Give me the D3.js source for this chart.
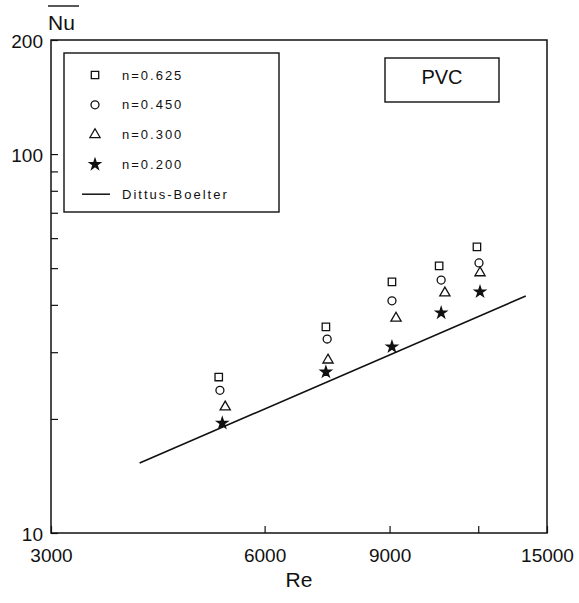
<!DOCTYPE html>
<html>
<head>
<meta charset="utf-8">
<script src="https://cdn.jsdelivr.net/npm/d3@7"></script>
<style>
  body { margin: 0; background: #fff; }
  svg text { font-family: "Liberation Sans", Arial, sans-serif; fill: #111; }
</style>
</head>
<body>
<div id="plot"></div>
<script>
// values
const reSquare = [5170, 7320, 9070, 10570, 11950];
const nuSquare = [25.8, 35.0, 46.0, 50.7, 56.9];   // n=0.625
const reCircle = [5190, 7350, 9070, 10640, 12030];
const nuCircle = [23.8, 32.5, 41.0, 46.5, 51.6];   // n=0.450
const reTri = [5280, 7370, 9190, 10770, 12070];
const nuTri = [21.5, 28.6, 36.9, 43.0, 48.6];      // n=0.300
const reStar = [5230, 7320, 9070, 10640, 12070];
const nuStar = [19.5, 26.6, 31.0, 38.1, 43.3];     // n=0.200
const reDB = [4000, 14000];
const nuDB = [15.3, 42.2];                          // Dittus-Boelter

const xTicks = [3000, 6000, 9000, 12000, 15000];
const xLabels = ["3000", "6000", "9000", "", "15000"];
const yTicks = [10, 20, 30, 40, 50, 60, 70, 80, 90, 100, 200];
const yLabels = { 10: "10", 100: "100", 200: "200" };
const legendLabels = ["n=0.625", "n=0.450", "n=0.300", "n=0.200", "Dittus-Boelter"];

const w = 579, h = 603;
const margin = { top: 40, right: 32, bottom: 70, left: 51 };
const innerWidth = w - margin.left - margin.right;
const innerHeight = h - margin.top - margin.bottom;

const svg = d3.select("#plot").append("svg")
    .attr("width", w)
    .attr("height", h);

const g = svg.append("g")
    .attr("transform", `translate(${margin.left},${margin.top})`);

const x = d3.scaleLog().domain([3000, 15000]).range([0, innerWidth]);
const y = d3.scaleLog().domain([10, 200]).range([innerHeight, 0]);

// axes, ticks pointing inward
const xAxis = g.append("g")
    .attr("transform", `translate(0,${innerHeight})`)
    .call(d3.axisBottom(x).tickValues(xTicks)
      .tickFormat((d, i) => xLabels[i]).tickSize(-7).tickPadding(16));
const yAxis = g.append("g")
    .call(d3.axisLeft(y).tickValues(yTicks)
      .tickFormat(d => yLabels[d] || "").tickSize(-7).tickPadding(8));

[xAxis, yAxis].forEach(a => {
  a.select(".domain").remove();
  a.selectAll("line").attr("stroke", "#111").attr("stroke-width", 1.2);
  a.selectAll("text").style("font-size", "19px").attr("fill", "#111");
  a.selectAll("text").filter(function() { return this.textContent === ""; }).remove();
});
yAxis.selectAll("text").attr("dy", "0.4em");

// frame
g.append("rect")
    .attr("width", innerWidth).attr("height", innerHeight)
    .attr("fill", "none").attr("stroke", "#111").attr("stroke-width", 1.5);

// Dittus-Boelter line
g.append("path")
    .datum(reDB.map((d, i) => [d, nuDB[i]]))
    .attr("fill", "none").attr("stroke", "#111").attr("stroke-width", 1.6)
    .attr("d", d3.line().x(d => x(d[0])).y(d => y(d[1])));

const series = [
  { re: reSquare, nu: nuSquare, sym: d3.symbolSquare, size: 55, fill: "none" },
  { re: reCircle, nu: nuCircle, sym: d3.symbolCircle, size: 50, fill: "none" },
  { re: reTri, nu: nuTri, sym: d3.symbolTriangle, size: 45, fill: "none" },
  { re: reStar, nu: nuStar, sym: d3.symbolStar, size: 36, fill: "#111" }
];

series.forEach(s => {
  g.selectAll(null)
    .data(s.re.map((d, i) => [d, s.nu[i]]))
    .enter().append("path")
    .attr("transform", d => `translate(${x(d[0])},${y(d[1])})`)
    .attr("d", d3.symbol(s.sym, s.size))
    .attr("fill", s.fill).attr("stroke", "#111").attr("stroke-width", 1.3);
});

// legend box
const leg = svg.append("g").attr("transform", "translate(64,53)");
leg.append("rect")
    .attr("width", 215).attr("height", 159)
    .attr("fill", "#fff").attr("stroke", "#111").attr("stroke-width", 1.4);

legendLabels.forEach((lab, i) => {
  const ly = 22 + i * 29.8;
  if (i < 4) {
    const s = series[i];
    leg.append("path")
      .attr("transform", `translate(31,${ly})`)
      .attr("d", d3.symbol(s.sym, s.size))
      .attr("fill", s.fill).attr("stroke", "#111").attr("stroke-width", 1.3);
  } else {
    leg.append("line")
      .attr("x1", 18).attr("x2", 46).attr("y1", ly).attr("y2", ly)
      .attr("stroke", "#111").attr("stroke-width", 1.5);
  }
  leg.append("text")
    .attr("x", 58).attr("y", ly).attr("dy", "0.36em")
    .style("font-size", "13px").style("letter-spacing", "2px")
    .text(lab);
});

// PVC box
svg.append("rect")
    .attr("x", 385).attr("y", 58).attr("width", 114).attr("height", 44)
    .attr("fill", "#fff").attr("stroke", "#111").attr("stroke-width", 1.4);
svg.append("text")
    .attr("x", 442).attr("y", 84).attr("text-anchor", "middle")
    .style("font-size", "20px").text("PVC");

// axis titles
svg.append("text")
    .attr("x", margin.left + innerWidth / 2).attr("y", 587)
    .attr("text-anchor", "middle").style("font-size", "21px").text("Re");
svg.append("text")
    .attr("x", 48).attr("y", 30).style("font-size", "21px").text("Nu");
svg.append("line")
    .attr("x1", 48).attr("x2", 79).attr("y1", 6).attr("y2", 6)
    .attr("stroke", "#111").attr("stroke-width", 1.4);
</script>
</body>
</html>
